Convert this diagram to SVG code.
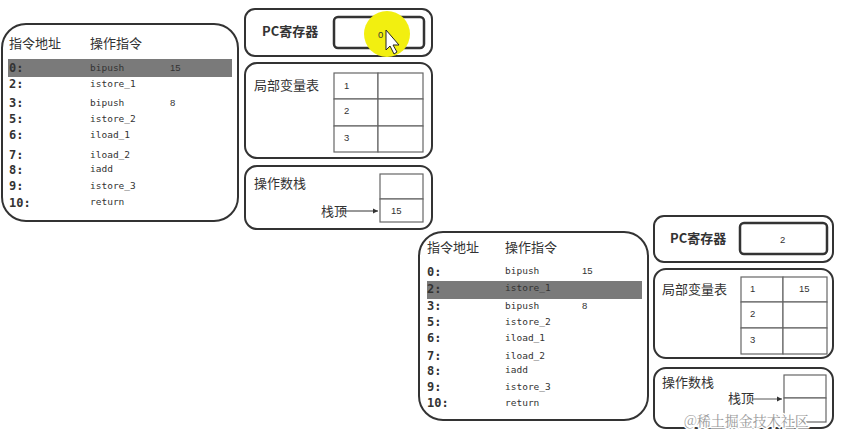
<svg xmlns="http://www.w3.org/2000/svg" width="846" height="430" viewBox="0 0 846 430">
<style>
.panel{fill:#fff;stroke:#333;stroke-width:2}
.cell{fill:#fff;stroke:#666;stroke-width:1.2}
.cn{font-family:"Noto Sans CJK SC","Noto Sans",sans-serif;font-size:13px;fill:#333}
.addr{font-family:"DejaVu Sans Mono","Liberation Mono",monospace;font-size:12px;font-weight:bold;fill:#333}
.op{font-family:"DejaVu Sans Mono","Liberation Mono",monospace;font-size:9.5px;fill:#333}
.num{font-family:"Liberation Sans",Arial,sans-serif;font-size:9.5px;fill:#333}
.hl{fill:#7a7a7a}
.wm{font-family:"Noto Serif CJK SC","Noto Sans CJK SC",serif;font-size:14px;fill:#9a9a9a}
</style>
<defs>
<marker id="ah" markerWidth="6" markerHeight="6" refX="5" refY="3" orient="auto"><path d="M0,0.5 L5,3 L0,5.5z" fill="#333"/></marker>
</defs>
<rect width="846" height="430" fill="#fff"/>

<g id="instr1">
<rect class="panel" x="2" y="24" width="236" height="197" rx="24"/>
<text class="cn" x="9" y="48">指令地址</text>
<text class="cn" x="90" y="48">操作指令</text>
<rect class="hl" x="8" y="59" width="224" height="18"/>
<text class="addr" x="9" y="72">0:</text><text class="op" x="90" y="71">bipush</text><text class="num" x="170" y="71">15</text>
<text class="addr" x="9" y="88">2:</text><text class="op" x="90" y="87">istore_1</text>
<text class="addr" x="9" y="107">3:</text><text class="op" x="90" y="106">bipush</text><text class="num" x="170" y="106">8</text>
<text class="addr" x="9" y="123">5:</text><text class="op" x="90" y="122">istore_2</text>
<text class="addr" x="9" y="139">6:</text><text class="op" x="90" y="138">iload_1</text>
<text class="addr" x="9" y="159">7:</text><text class="op" x="90" y="158">iload_2</text>
<text class="addr" x="9" y="174">8:</text><text class="op" x="90" y="172">iadd</text>
<text class="addr" x="9" y="190">9:</text><text class="op" x="90" y="189">istore_3</text>
<text class="addr" x="9" y="207">10:</text><text class="op" x="90" y="205">return</text>
</g>

<g id="pc1">
<rect class="panel" x="245" y="9" width="187" height="47" rx="10"/>
<text class="cn" x="262" y="36" font-weight="bold">PC寄存器</text>
<rect x="334" y="17" width="90" height="31" rx="4" fill="#fff" stroke="#333" stroke-width="2.5"/>
<circle cx="387" cy="34" r="23" fill="#f2ef10"/>
<text class="num" x="378" y="38">0</text>
<path d="M386,30 L386,50 L390,46 L394,54 L397,52 L393,45 L399,45 Z" fill="#fff" stroke="#222" stroke-width="1"/>
</g>

<g id="locals1">
<rect class="panel" x="245" y="63" width="187" height="95" rx="12"/>
<text class="cn" x="254" y="90">局部变量表</text>
<rect class="cell" x="334" y="73" width="44" height="26"/><rect class="cell" x="378" y="73" width="45" height="26"/>
<rect class="cell" x="334" y="99" width="44" height="27"/><rect class="cell" x="378" y="99" width="45" height="27"/>
<rect class="cell" x="334" y="126" width="44" height="26"/><rect class="cell" x="378" y="126" width="45" height="26"/>
<text class="num" x="344" y="89">1</text><text class="num" x="344" y="114">2</text><text class="num" x="344" y="141">3</text>
</g>

<g id="stack1">
<rect class="panel" x="245" y="166" width="187" height="63" rx="12"/>
<text class="cn" x="254" y="188">操作数栈</text>
<rect class="cell" x="380" y="174" width="43" height="25"/>
<rect class="cell" x="380" y="199" width="43" height="23"/>
<text class="num" x="391" y="214">15</text>
<text class="cn" x="321" y="216">栈顶</text>
</g>

<g id="instr2">
<rect class="panel" x="419" y="232" width="229" height="188" rx="24"/>
<text class="cn" x="427" y="252">指令地址</text>
<text class="cn" x="505" y="252">操作指令</text>
<rect class="hl" x="427" y="281" width="215" height="18"/>
<text class="addr" x="427" y="276">0:</text><text class="op" x="505" y="274">bipush</text><text class="num" x="582" y="274">15</text>
<text class="addr" x="427" y="293">2:</text><text class="op" x="505" y="291">istore_1</text>
<text class="addr" x="427" y="310">3:</text><text class="op" x="505" y="309">bipush</text><text class="num" x="582" y="309">8</text>
<text class="addr" x="427" y="326">5:</text><text class="op" x="505" y="325">istore_2</text>
<text class="addr" x="427" y="342">6:</text><text class="op" x="505" y="341">iload_1</text>
<text class="addr" x="427" y="360">7:</text><text class="op" x="505" y="359">iload_2</text>
<text class="addr" x="427" y="375">8:</text><text class="op" x="505" y="373">iadd</text>
<text class="addr" x="427" y="391">9:</text><text class="op" x="505" y="390">istore_3</text>
<text class="addr" x="427" y="407">10:</text><text class="op" x="505" y="406">return</text>
</g>

<g id="pc2">
<rect class="panel" x="654" y="216" width="179" height="46" rx="10"/>
<text class="cn" x="670" y="243" font-weight="bold">PC寄存器</text>
<rect x="740" y="223" width="87" height="31" rx="4" fill="#fff" stroke="#333" stroke-width="2.5"/>
<text class="num" x="780" y="243">2</text>
</g>

<g id="locals2">
<rect class="panel" x="654" y="269" width="179" height="89" rx="12"/>
<text class="cn" x="662" y="294">局部变量表</text>
<rect class="cell" x="741" y="277" width="42" height="25"/><rect class="cell" x="783" y="277" width="44" height="25"/>
<rect class="cell" x="741" y="302" width="42" height="26"/><rect class="cell" x="783" y="302" width="44" height="26"/>
<rect class="cell" x="741" y="328" width="42" height="26"/><rect class="cell" x="783" y="328" width="44" height="26"/>
<text class="num" x="750" y="292">1</text><text class="num" x="799" y="292">15</text>
<text class="num" x="750" y="317">2</text><text class="num" x="750" y="343">3</text>
</g>

<g id="stack2">
<rect class="panel" x="654" y="368" width="179" height="60" rx="12"/>
<text class="cn" x="662" y="387">操作数栈</text>
<rect class="cell" x="784" y="375" width="42" height="23"/>
<rect class="cell" x="784" y="398" width="42" height="24"/>
<text class="cn" x="728" y="403" font-size="11" fill="#555">栈顶</text>
</g>

<g id="connectors">
<line x1="338" y1="211" x2="378" y2="211" stroke="#333" stroke-width="1" marker-end="url(#ah)"/>
<line x1="752" y1="399" x2="782" y2="399" stroke="#555" stroke-width="1" marker-end="url(#ah)"/>
</g>

<text class="wm" x="684" y="426" stroke="#fff" stroke-width="3" paint-order="stroke">@稀土掘金技术社区</text>
</svg>
